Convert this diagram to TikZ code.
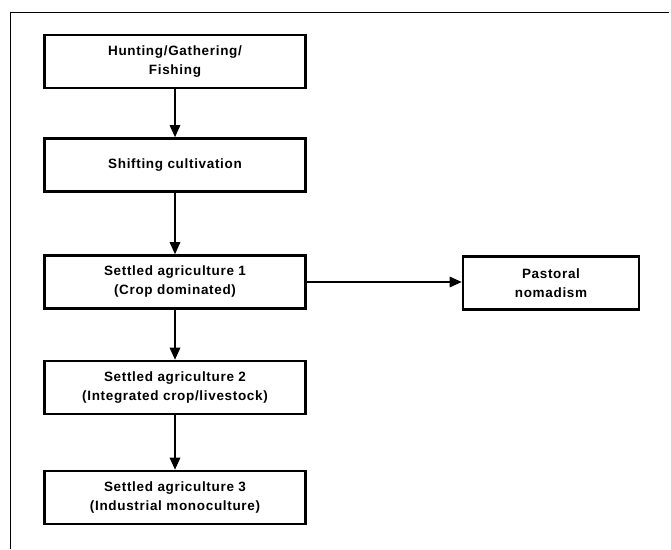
\documentclass[tikz,border=0pt]{standalone}
\usepackage{fontspec}
\setmainfont{Liberation Sans}
\newfontfamily\labelfont[LetterSpace=5.0]{Liberation Sans}
\usetikzlibrary{arrows.meta}
\begin{document}
\begin{tikzpicture}[x=1pt,y=-1pt,
  stage/.style={draw, line width=2.6pt, minimum width=261pt, minimum height=53pt,
    align=center, font=\labelfont\fontsize{13.5}{19}\selectfont\bfseries, inner sep=0pt},
  side/.style={stage, minimum width=176pt},
  flow/.style={line width=1.4pt, -{Triangle[length=12pt,width=10.5pt]}}]
  \useasboundingbox (0,0) rectangle (671,549);
  % open frame: top and left edges
  \draw[line width=1pt] (669,12) -- (10,12) -- (10,549);
  \node[stage] (hunt) at (175,61.5) {Hunting/Gathering/\\Fishing};
  \node[stage] (shift) at (175,165) {Shifting cultivation};
  \node[stage] (sa1) at (175,282) {Settled agriculture 1\\(Crop dominated)};
  \node[side] (past) at (551,283) {Pastoral\\nomadism};
  \node[stage] (sa2) at (175,387.5) {Settled agriculture 2\\(Integrated crop/livestock)};
  \node[stage] (sa3) at (175,497.5) {Settled agriculture 3\\(Industrial monoculture)};
  \draw[flow] (hunt) -- (shift);
  \draw[flow] (shift) -- (sa1);
  \draw[flow] (sa1) -- (sa1 -| past.west);
  \draw[flow] (sa1) -- (sa2);
  \draw[flow] (sa2) -- (sa3);
\end{tikzpicture}
\end{document}
